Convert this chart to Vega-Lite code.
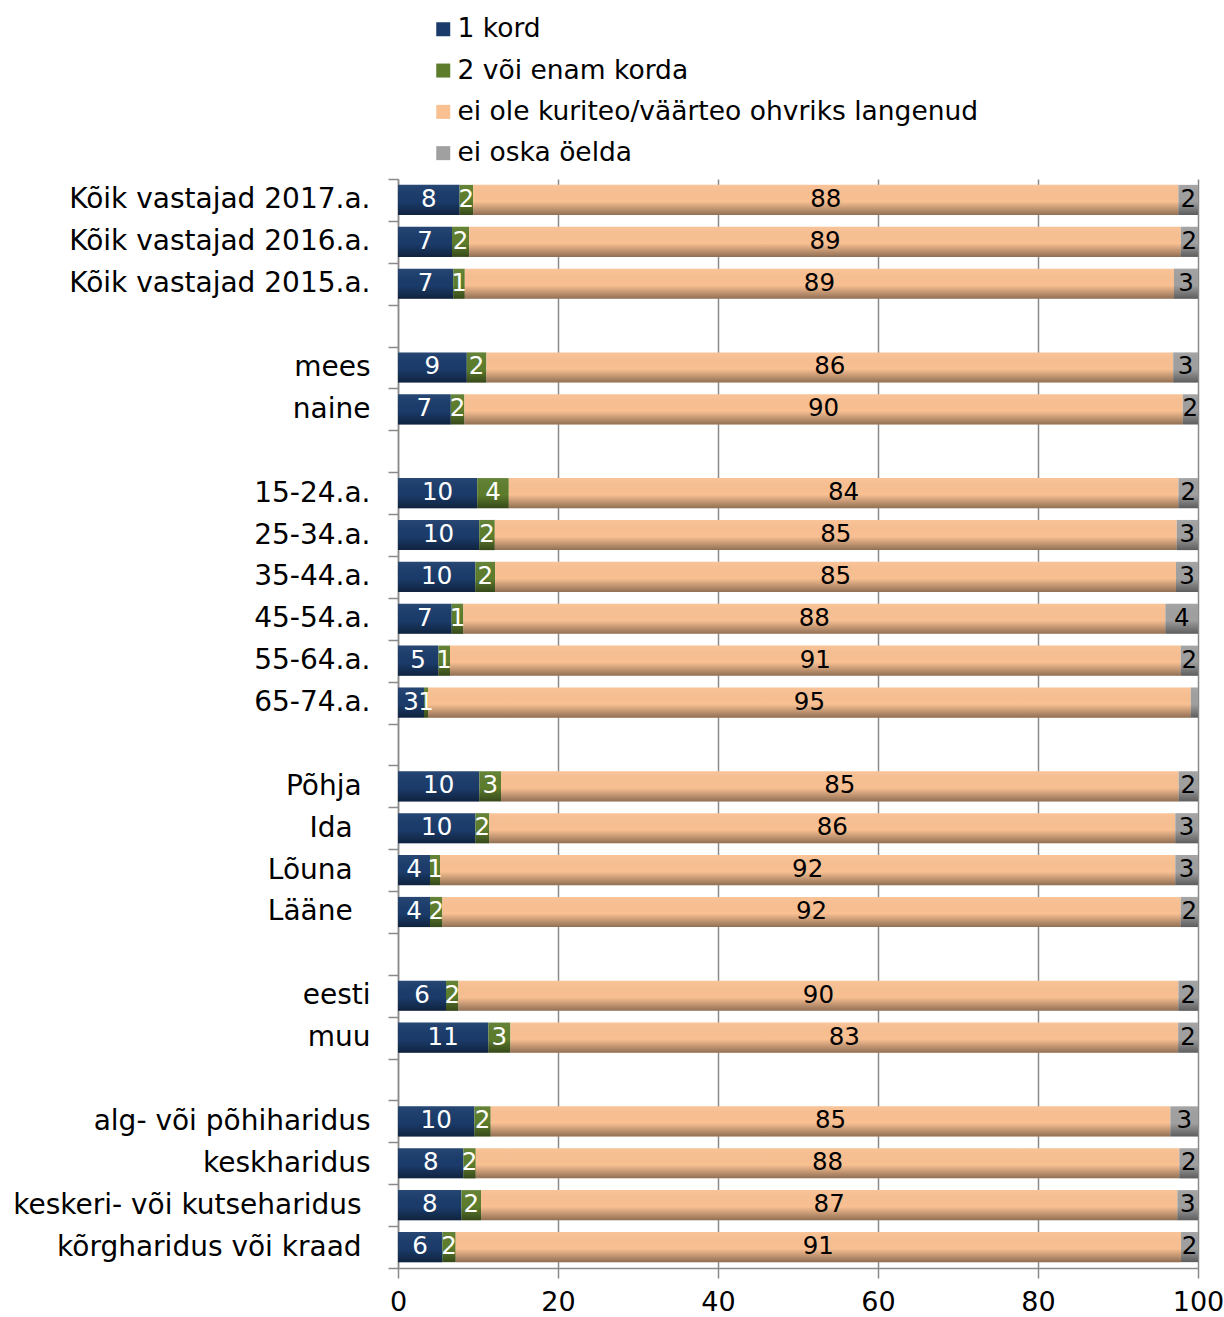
{
  "$schema": "https://vega.github.io/schema/vega-lite/v6.json",
  "autosize": {"type": "none"},
  "padding": {"left": 398, "top": 179, "right": 26, "bottom": 49},
  "width": 800,
  "height": 1089,
  "config": {"font": "DejaVu Sans", "view": {"stroke": null}},
  "data": {"values": [
    {"cat": "Kõik vastajad 2017.a.", "series": "1 kord", "value": 7.7, "label": "8"},
    {"cat": "Kõik vastajad 2017.a.", "series": "2 või enam korda", "value": 1.7, "label": "2"},
    {"cat": "Kõik vastajad 2017.a.", "series": "ei ole kuriteo/väärteo ohvriks langenud", "value": 88.15, "label": "88"},
    {"cat": "Kõik vastajad 2017.a.", "series": "ei oska öelda", "value": 2.45, "label": "2"},
    {"cat": "Kõik vastajad 2016.a.", "series": "1 kord", "value": 6.75, "label": "7"},
    {"cat": "Kõik vastajad 2016.a.", "series": "2 või enam korda", "value": 2.15, "label": "2"},
    {"cat": "Kõik vastajad 2016.a.", "series": "ei ole kuriteo/väärteo ohvriks langenud", "value": 88.95, "label": "89"},
    {"cat": "Kõik vastajad 2016.a.", "series": "ei oska öelda", "value": 2.15, "label": "2"},
    {"cat": "Kõik vastajad 2015.a.", "series": "1 kord", "value": 6.9, "label": "7"},
    {"cat": "Kõik vastajad 2015.a.", "series": "2 või enam korda", "value": 1.45, "label": "1"},
    {"cat": "Kõik vastajad 2015.a.", "series": "ei ole kuriteo/väärteo ohvriks langenud", "value": 88.65, "label": "89"},
    {"cat": "Kõik vastajad 2015.a.", "series": "ei oska öelda", "value": 3.0, "label": "3"},
    {"cat": "mees", "series": "1 kord", "value": 8.6, "label": "9"},
    {"cat": "mees", "series": "2 või enam korda", "value": 2.45, "label": "2"},
    {"cat": "mees", "series": "ei ole kuriteo/väärteo ohvriks langenud", "value": 85.85, "label": "86"},
    {"cat": "mees", "series": "ei oska öelda", "value": 3.1, "label": "3"},
    {"cat": "naine", "series": "1 kord", "value": 6.6, "label": "7"},
    {"cat": "naine", "series": "2 või enam korda", "value": 1.7, "label": "2"},
    {"cat": "naine", "series": "ei ole kuriteo/väärteo ohvriks langenud", "value": 89.8, "label": "90"},
    {"cat": "naine", "series": "ei oska öelda", "value": 1.9, "label": "2"},
    {"cat": "15-24.a.", "series": "1 kord", "value": 9.9, "label": "10"},
    {"cat": "15-24.a.", "series": "2 või enam korda", "value": 3.95, "label": "4"},
    {"cat": "15-24.a.", "series": "ei ole kuriteo/väärteo ohvriks langenud", "value": 83.7, "label": "84"},
    {"cat": "15-24.a.", "series": "ei oska öelda", "value": 2.45, "label": "2"},
    {"cat": "25-34.a.", "series": "1 kord", "value": 10.15, "label": "10"},
    {"cat": "25-34.a.", "series": "2 või enam korda", "value": 1.95, "label": "2"},
    {"cat": "25-34.a.", "series": "ei ole kuriteo/väärteo ohvriks langenud", "value": 85.24, "label": "85"},
    {"cat": "25-34.a.", "series": "ei oska öelda", "value": 2.66, "label": "3"},
    {"cat": "35-44.a.", "series": "1 kord", "value": 9.67, "label": "10"},
    {"cat": "35-44.a.", "series": "2 või enam korda", "value": 2.46, "label": "2"},
    {"cat": "35-44.a.", "series": "ei ole kuriteo/väärteo ohvriks langenud", "value": 85.12, "label": "85"},
    {"cat": "35-44.a.", "series": "ei oska öelda", "value": 2.75, "label": "3"},
    {"cat": "45-54.a.", "series": "1 kord", "value": 6.71, "label": "7"},
    {"cat": "45-54.a.", "series": "2 või enam korda", "value": 1.46, "label": "1"},
    {"cat": "45-54.a.", "series": "ei ole kuriteo/väärteo ohvriks langenud", "value": 87.75, "label": "88"},
    {"cat": "45-54.a.", "series": "ei oska öelda", "value": 4.08, "label": "4"},
    {"cat": "55-64.a.", "series": "1 kord", "value": 5.04, "label": "5"},
    {"cat": "55-64.a.", "series": "2 või enam korda", "value": 1.46, "label": "1"},
    {"cat": "55-64.a.", "series": "ei ole kuriteo/väärteo ohvriks langenud", "value": 91.34, "label": "91"},
    {"cat": "55-64.a.", "series": "ei oska öelda", "value": 2.16, "label": "2"},
    {"cat": "65-74.a.", "series": "1 kord", "value": 3.25, "label": "3"},
    {"cat": "65-74.a.", "series": "2 või enam korda", "value": 0.5, "label": "1"},
    {"cat": "65-74.a.", "series": "ei ole kuriteo/väärteo ohvriks langenud", "value": 95.35, "label": "95"},
    {"cat": "65-74.a.", "series": "ei oska öelda", "value": 0.9, "label": ""},
    {"cat": "Põhja", "series": "1 kord", "value": 10.17, "label": "10"},
    {"cat": "Põhja", "series": "2 või enam korda", "value": 2.71, "label": "3"},
    {"cat": "Põhja", "series": "ei ole kuriteo/väärteo ohvriks langenud", "value": 84.7, "label": "85"},
    {"cat": "Põhja", "series": "ei oska öelda", "value": 2.42, "label": "2"},
    {"cat": "Ida", "series": "1 kord", "value": 9.67, "label": "10"},
    {"cat": "Ida", "series": "2 või enam korda", "value": 1.75, "label": "2"},
    {"cat": "Ida", "series": "ei ole kuriteo/väärteo ohvriks langenud", "value": 85.74, "label": "86"},
    {"cat": "Ida", "series": "ei oska öelda", "value": 2.84, "label": "3"},
    {"cat": "Lõuna", "series": "1 kord", "value": 4.0, "label": "4"},
    {"cat": "Lõuna", "series": "2 või enam korda", "value": 1.25, "label": "1"},
    {"cat": "Lõuna", "series": "ei ole kuriteo/väärteo ohvriks langenud", "value": 91.91, "label": "92"},
    {"cat": "Lõuna", "series": "ei oska öelda", "value": 2.84, "label": "3"},
    {"cat": "Lääne", "series": "1 kord", "value": 4.0, "label": "4"},
    {"cat": "Lääne", "series": "2 või enam korda", "value": 1.55, "label": "2"},
    {"cat": "Lääne", "series": "ei ole kuriteo/väärteo ohvriks langenud", "value": 92.29, "label": "92"},
    {"cat": "Lääne", "series": "ei oska öelda", "value": 2.16, "label": "2"},
    {"cat": "eesti", "series": "1 kord", "value": 6.0, "label": "6"},
    {"cat": "eesti", "series": "2 või enam korda", "value": 1.55, "label": "2"},
    {"cat": "eesti", "series": "ei ole kuriteo/väärteo ohvriks langenud", "value": 90.0, "label": "90"},
    {"cat": "eesti", "series": "ei oska öelda", "value": 2.45, "label": "2"},
    {"cat": "muu", "series": "1 kord", "value": 11.3, "label": "11"},
    {"cat": "muu", "series": "2 või enam korda", "value": 2.75, "label": "3"},
    {"cat": "muu", "series": "ei ole kuriteo/väärteo ohvriks langenud", "value": 83.47, "label": "83"},
    {"cat": "muu", "series": "ei oska öelda", "value": 2.48, "label": "2"},
    {"cat": "alg- või põhiharidus", "series": "1 kord", "value": 9.55, "label": "10"},
    {"cat": "alg- või põhiharidus", "series": "2 või enam korda", "value": 2.04, "label": "2"},
    {"cat": "alg- või põhiharidus", "series": "ei ole kuriteo/väärteo ohvriks langenud", "value": 84.96, "label": "85"},
    {"cat": "alg- või põhiharidus", "series": "ei oska öelda", "value": 3.45, "label": "3"},
    {"cat": "keskharidus", "series": "1 kord", "value": 8.17, "label": "8"},
    {"cat": "keskharidus", "series": "2 või enam korda", "value": 1.55, "label": "2"},
    {"cat": "keskharidus", "series": "ei ole kuriteo/väärteo ohvriks langenud", "value": 87.95, "label": "88"},
    {"cat": "keskharidus", "series": "ei oska öelda", "value": 2.33, "label": "2"},
    {"cat": "keskeri- või kutseharidus", "series": "1 kord", "value": 7.92, "label": "8"},
    {"cat": "keskeri- või kutseharidus", "series": "2 või enam korda", "value": 2.46, "label": "2"},
    {"cat": "keskeri- või kutseharidus", "series": "ei ole kuriteo/väärteo ohvriks langenud", "value": 87.04, "label": "87"},
    {"cat": "keskeri- või kutseharidus", "series": "ei oska öelda", "value": 2.58, "label": "3"},
    {"cat": "kõrgharidus või kraad", "series": "1 kord", "value": 5.54, "label": "6"},
    {"cat": "kõrgharidus või kraad", "series": "2 või enam korda", "value": 1.67, "label": "2"},
    {"cat": "kõrgharidus või kraad", "series": "ei ole kuriteo/väärteo ohvriks langenud", "value": 90.67, "label": "91"},
    {"cat": "kõrgharidus või kraad", "series": "ei oska öelda", "value": 2.12, "label": "2"}
  ]},
  "transform": [
    {"stack": "value", "groupby": ["cat"], "sort": [{"field": "series", "order": "ascending"}], "as": ["v0", "v1"]},
    {"calculate": "(datum.v0 + datum.v1) / 2", "as": "mid"}
  ],
  "layer": [
    {
      "mark": {"type": "bar", "height": {"band": 0.72}},
      "encoding": {
        "y": {
          "field": "cat", "type": "nominal", "title": null,
          "scale": {
            "domain": ["Kõik vastajad 2017.a.", "Kõik vastajad 2016.a.", "Kõik vastajad 2015.a.", "_1", "mees", "naine", "_2", "15-24.a.", "25-34.a.", "35-44.a.", "45-54.a.", "55-64.a.", "65-74.a.", "_3", "Põhja", "Ida", "Lõuna", "Lääne", "_4", "eesti", "muu", "_5", "alg- või põhiharidus", "keskharidus", "keskeri- või kutseharidus", "kõrgharidus või kraad"],
            "paddingInner": 0, "paddingOuter": 0
          },
          "axis": {
            "tickBand": "extent",
            "tickSize": 10, "tickColor": "#8a8a8a", "tickWidth": 1.5,
            "domainColor": "#8a8a8a", "domainWidth": 1.5,
            "labelFontSize": 28, "labelColor": "#000000", "labelPadding": 18, "labelLimit": 500,
            "labelExpr": "!isString(datum.value) || indexof(datum.value, '_') == 0 ? '' : indexof(['Põhja', 'keskeri- või kutseharidus', 'kõrgharidus või kraad'], datum.value) >= 0 ? datum.value + '\u00a0\u200b' : indexof(['Ida', 'Lõuna', 'Lääne'], datum.value) >= 0 ? datum.value + '\u00a0\u00a0\u200b' : datum.value"
          }
        },
        "x": {
          "field": "v0", "type": "quantitative", "title": null,
          "scale": {"domain": [0, 100], "nice": false},
          "axis": {
            "values": [0, 20, 40, 60, 80, 100],
            "grid": true, "gridColor": "#8a8a8a", "gridWidth": 1.5,
            "domainColor": "#8a8a8a", "domainWidth": 1.5,
            "tickColor": "#8a8a8a", "tickWidth": 1.5, "tickSize": 10,
            "labelFontSize": 27, "labelColor": "#000000", "labelPadding": 11, "labelFlush": false
          }
        },
        "x2": {"field": "v1"},
        "color": {
          "field": "series", "type": "nominal",
          "scale": {
            "domain": ["1 kord", "2 või enam korda", "ei ole kuriteo/väärteo ohvriks langenud", "ei oska öelda"],
            "range": ["#1B3C6B", "#5D7D2D", "#F9C092", "#A0A0A0"]
          },
          "legend": {
            "title": null, "orient": "none", "legendX": 32, "legendY": -163,
            "symbolType": "square", "symbolSize": 196,
            "labelFontSize": 26.5, "labelColor": "#000000", "labelOffset": 1,
            "rowPadding": 14.3, "labelLimit": 800
          }
        }
      }
    },
    {
      "mark": {
        "type": "bar", "height": {"band": 0.72},
        "fill": {
          "gradient": "linear", "x1": 0, "y1": 0, "x2": 0, "y2": 1,
          "stops": [
            {"offset": 0, "color": "rgba(255,255,255,0.06)"},
            {"offset": 0.55, "color": "rgba(0,0,0,0)"},
            {"offset": 1, "color": "rgba(0,0,0,0.42)"}
          ]
        }
      },
      "encoding": {
        "y": {"field": "cat", "type": "nominal"},
        "x": {"field": "v0", "type": "quantitative"},
        "x2": {"field": "v1"}
      }
    },
    {
      "mark": {"type": "text", "fontSize": 24.5, "align": "center", "baseline": "middle"},
      "encoding": {
        "y": {"field": "cat", "type": "nominal"},
        "x": {"field": "mid", "type": "quantitative"},
        "text": {"field": "label", "type": "nominal"},
        "color": {
          "condition": {"test": "datum.series == '1 kord' || datum.series == '2 või enam korda'", "value": "#ffffff"},
          "value": "#000000"
        }
      }
    }
  ]
}
